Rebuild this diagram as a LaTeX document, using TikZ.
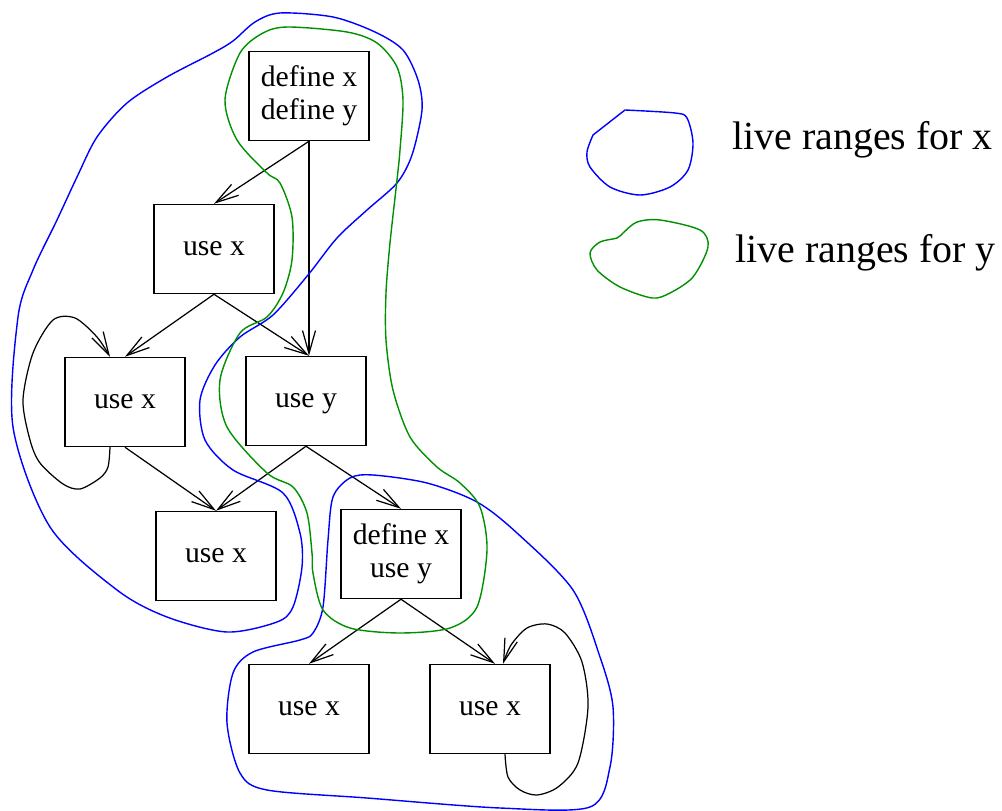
\documentclass[tikz,border=0pt]{standalone}
\usepackage{fontspec}
\setmainfont{Liberation Serif}
\usetikzlibrary{arrows.meta,calc}
\definecolor{rangeblue}{RGB}{0,0,255}
\definecolor{rangegreen}{RGB}{0,144,0}

\begin{document}
\begin{tikzpicture}[x=0.02cm,y=-0.02cm,
  block/.style={draw,line width=0.85pt,minimum width=2.4cm,minimum height=1.78cm,
    inner sep=0pt,align=center,font=\fontsize{16.9}{19}\selectfont},
  flow/.style={line width=0.7pt,-{Straight Barb[length=4.6mm,width=2.6mm]}},
  livex/.style={draw=rangeblue,line width=0.8pt},
  livey/.style={draw=rangegreen,line width=0.8pt},
  legend/.style={anchor=base west,inner sep=0pt,font=\fontsize{22.7}{26}\selectfont}]
\useasboundingbox (0,0) rectangle (1002,811);

% blocks of the flow graph
\node[block] (top) at (309,96)
  {\fontsize{16.9}{21.5}\selectfont define x\\define y};
\node[block] (u1) at (214,249) {use x};
\node[block] (u2) at (125,402) {use x};
\node[block] (uy) at (306,401) {use \smash{y}};
\node[block] (u3) at (216,556) {use x};
\node[block] (dx) at (401,554)
  {\fontsize{16.9}{16.4}\selectfont define x\\use y};
\node[block] (u4) at (309,709) {use x};
\node[block] (u5) at (490,709) {use x};

\coordinate (uyin) at (top.south |- uy.north);

% edges
\draw[flow] (top.south) -- (u1.north);
\draw[flow] (top.south) -- (uyin);
\draw[flow] (u1.south) -- (u2.north);
\draw[flow] (u1.south) -- (uyin);
\draw[flow] (u2.south) -- (u3.north);
\draw[flow] (uy.south) -- (u3.north);
\draw[flow] (uy.south) -- (dx.north);
\draw[flow] (dx.south) -- (u4.north);
\draw[flow] (dx.south) -- ($(u5.north)+(5,0)$);

% self loops
\draw[flow] plot[smooth] coordinates {($(u2.south)+(-15,0)$) (108,467) (100,478)
  (80,489) (63,484) (40,463) (30,440) (23,400) (33,353) (53,320) (75,318) (97,337)
  ($(u2.north)+(-15,0)$)};
\draw[flow] plot[smooth] coordinates {($(u5.south)+(15,0)$) (508,777) (520,790)
  (537,795) (558,787) (578,763) (588,707) (582,662) (565,633) (547,624) (527,628)
  (511,645) ($(u5.north)+(13,0)$)};

% live range of x, upper part
\draw[livex] plot[smooth cycle] coordinates {(280,13) (333,17) (375,32) (403,50)
  (418,80) (422,110) (412,155) (397,183) (367,210) (337,238) (308,275) (273,315)
  (240,337) (215,365) (200,400) (205,440) (233,470) (283,493) (300,533) (302,567)
  (293,607) (277,622) (227,632) (167,617) (117,590) (50,527) (13,427) (18,317)
  (33,270) (57,220) (77,177) (97,137) (127,103) (167,77) (213,53) (233,41) (255,22)};

% live range of x, lower part
\draw[livex] plot[smooth cycle] coordinates {(373,475) (427,483) (477,502)
  (517,533) (573,590) (600,657) (613,707) (610,767) (590,807) (500,808) (367,798)
  (267,790) (240,773) (227,723) (233,673) (253,652) (300,640) (313,633) (323,607)
  (328,540) (333,497) (350,478)};

% live range of y
\draw[livey] plot[smooth cycle] coordinates {(288,27) (347,32) (377,43) (397,67)
  (403,100) (400,150) (397,180) (390,243) (386,293) (386,340) (393,390) (410,437)
  (437,467) (460,483) (480,507) (487,550) (477,607) (450,628) (400,633) (350,628)
  (323,610) (313,573) (312,553) (307,513) (293,487) (267,473) (227,427) (220,380)
  (240,333) (267,317) (283,293) (292,260) (292,217) (280,183) (267,173) (237,140)
  (225,100) (240,53) (263,33)};

% legend
\draw[livex] plot[smooth] coordinates {(625,110) (675,113) (687,118) (693,143)
  (688,170) (670,187) (640,195) (610,187) (590,167) (587,152) (593,135)} -- cycle;
\node[legend] (lx) at (732,150) {live ranges for x};
\draw[livey] plot[smooth cycle] coordinates {(623,233) (637,222) (660,220)
  (700,230) (708,247) (693,277) (670,293) (652,298) (620,287) (597,270) (590,253)
  (600,242) (617,238)};
\node[legend] (ly) at (735,263) {live ranges for y};
\end{tikzpicture}
\end{document}
